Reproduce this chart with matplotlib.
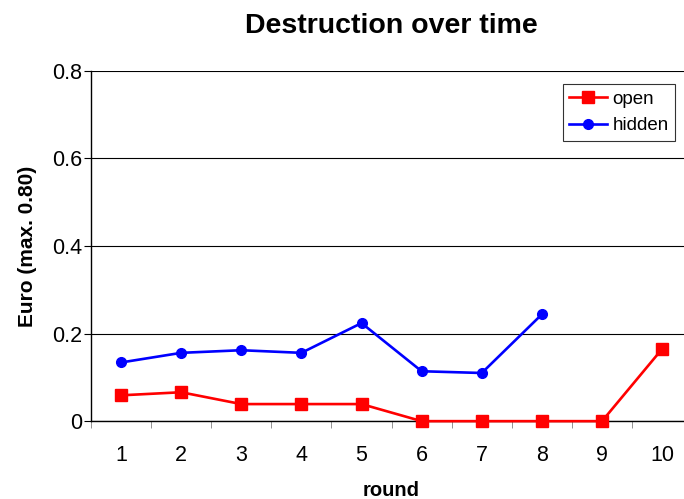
import numpy as np
import matplotlib.pyplot as plt
from matplotlib.ticker import FixedLocator

plt.rcParams['font.family'] = ['Liberation Sans', 'DejaVu Sans']

# data
rounds = [1, 2, 3, 4, 5, 6, 7, 8, 9, 10]
open_vals = [0.059, 0.066, 0.039, 0.039, 0.039, 0.0, 0.0, 0.0, 0.0, 0.165]
hidden_rounds = [1, 2, 3, 4, 5, 6, 7, 8]
hidden_vals = [0.134, 0.156, 0.162, 0.156, 0.224, 0.114, 0.110, 0.244]
y_ticks = [0, 0.2, 0.4, 0.6, 0.8]
y_tick_labels = ['0', '0.2', '0.4', '0.6', '0.8']

fig = plt.figure(figsize=(6.84, 4.99), dpi=100)
ax = fig.add_axes([0.133, 0.156, 0.879, 0.702])

ax.plot(rounds, open_vals, color='#ff0000', lw=1.9, marker='s', ms=8.5,
        label='open', clip_on=False, zorder=4)
ax.plot(hidden_rounds, hidden_vals, color='#0000ff', lw=1.9, marker='o', ms=7,
        label='hidden', clip_on=False, zorder=3)

ax.set_xlim(0.5, 10.5)
ax.set_ylim(0, 0.8)
ax.set_yticks(y_ticks)
ax.set_yticklabels(y_tick_labels)
ax.set_xticks(rounds)
ax.xaxis.set_minor_locator(FixedLocator(np.arange(0.5, 11, 1)))
ax.tick_params(axis='x', which='major', length=0, pad=17, labelsize=15.5)
ax.tick_params(axis='x', which='minor', length=5, color='#808080', direction='out')
ax.tick_params(axis='y', length=5, direction='out', labelsize=15.5, pad=1.5)

ax.grid(axis='y', color='black', lw=0.8)
ax.set_axisbelow(True)
for s in ['top', 'right']:
    ax.spines[s].set_visible(False)
ax.spines['left'].set_linewidth(1.0)
ax.spines['bottom'].set_linewidth(1.0)

ax.set_title('Destruction over time', fontsize=20.5, fontweight='bold', pad=27)
ax.set_xlabel('round', fontsize=14.5, fontweight='bold')
ax.xaxis.set_label_coords(0.5, -0.17)
ax.set_ylabel('Euro (max. 0.80)', fontsize=15, fontweight='bold', labelpad=10.5)

leg = ax.legend(loc='upper right', bbox_to_anchor=(0.972, 0.962), fontsize=13.5,
                frameon=True, fancybox=False, edgecolor='black', borderaxespad=0,
                handlelength=2.0, borderpad=0.35, labelspacing=0.5, handletextpad=0.3)
leg.get_frame().set_linewidth(0.8)

fig.savefig('out.png', dpi=100)
